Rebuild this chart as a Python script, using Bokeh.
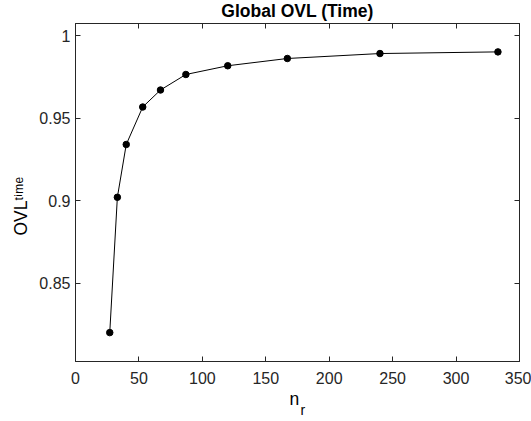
from bokeh.plotting import figure
from bokeh.models import Range1d, FixedTicker, LinearAxis, Title, CustomLabelingPolicy
from bokeh.embed import file_html
from bokeh.resources import INLINE

# data
nr = [27, 33, 40, 53, 67, 87, 120, 167, 240, 333]
ovl = [0.820, 0.902, 0.934, 0.9567, 0.967, 0.9764, 0.9817, 0.9861, 0.9891, 0.9901]
x_ticks = [0, 50, 100, 150, 200, 250, 300, 350]
y_ticks = [0.85, 0.9, 0.95, 1.0]
y_tick_labels = ["0.85", "0.9", "0.95", "1"]

FONT = "Liberation Sans"
AX = "#262626"

p = figure(width=531, height=421, output_backend="svg", toolbar_location=None,
           x_range=Range1d(0, 350), y_range=Range1d(0.8025, 1.0073),
           min_border_left=75, min_border_right=12,
           min_border_top=23, min_border_bottom=60)
p.xgrid.visible = False
p.ygrid.visible = False
p.outline_line_color = AX
p.outline_line_width = 1
p.background_fill_color = "white"
p.border_fill_color = "white"

p.title.text = "Global OVL (Time)"
p.title.align = "center"
p.title.text_font = FONT
p.title.text_font_size = "17.5px"
p.title.text_font_style = "bold"
p.title.text_color = "black"
p.title.standoff = -3


def style(ax, ticks, show):
    ax.ticker = FixedTicker(ticks=ticks)
    ax.axis_line_color = AX
    ax.major_tick_line_color = AX
    ax.major_tick_in = 5
    ax.major_tick_out = 0
    ax.minor_tick_in = 0
    ax.minor_tick_out = 0
    ax.major_label_text_font = FONT
    ax.major_label_text_color = AX
    if show:
        ax.major_label_text_font_size = "16px"
    else:
        ax.major_label_text_font_size = "1px"
        ax.major_label_standoff = 0
        ax.major_label_policy = CustomLabelingPolicy(code="return new Set()")


style(p.xaxis[0], x_ticks, True)
style(p.yaxis[0], y_ticks, True)
p.xaxis[0].major_label_standoff = 10
p.yaxis[0].major_label_standoff = 5
p.yaxis[0].major_label_overrides = {t: s for t, s in zip(y_ticks, y_tick_labels)}

top_ax = LinearAxis()
right_ax = LinearAxis()
style(top_ax, x_ticks, False)
style(right_ax, y_ticks, False)
p.add_layout(top_ax, "above")
p.add_layout(right_ax, "right")

p.line(nr, ovl, line_color="black", line_width=1)
p.scatter(nr, ovl, size=6.5, fill_color="black", line_color="black")


def side_text(txt, side, size, offset, standoff, valign="bottom"):
    t = Title(text=txt, align="left", offset=offset, standoff=standoff,
              vertical_align=valign, text_font=FONT, text_font_size=size,
              text_font_style="normal", text_color="black")
    p.add_layout(t, side)


# y label: OVL with superscript "time"
side_text("OVL\u1d57\u2071\u1d50\u1d49", "left", "17.5px", 126, 12)
# x label: n with subscript r
side_text("n", "below", "17.5px", 214, 1)
side_text("r", "below", "14px", 225, -15, valign="top")

open("out.html", "w").write(file_html(p, INLINE))
